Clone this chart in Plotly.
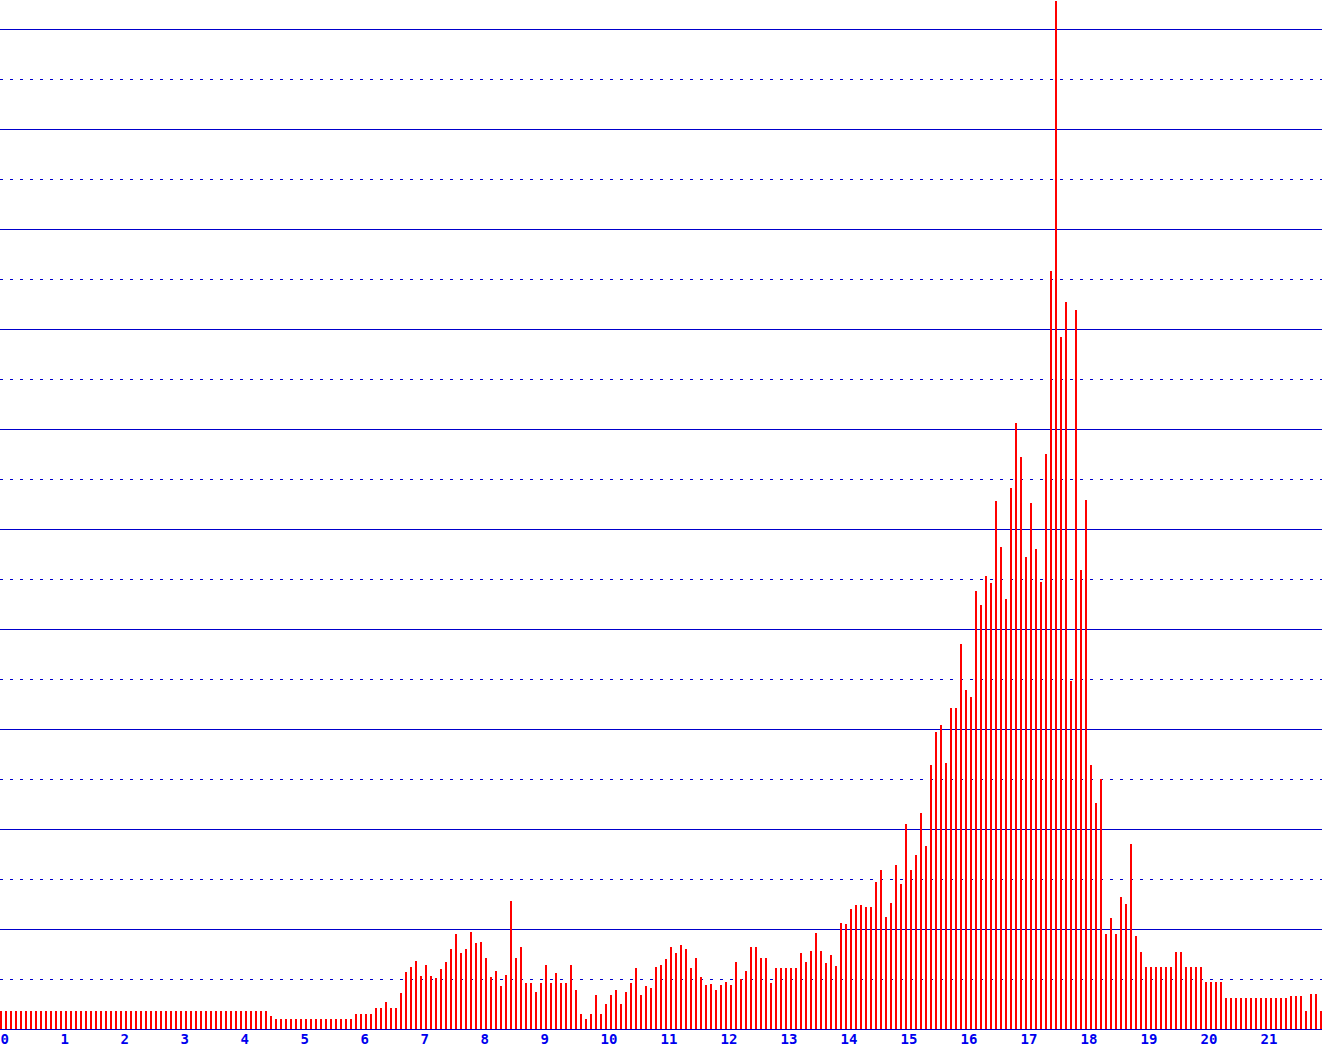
import plotly.graph_objects as go

# Time of day in minutes (one bar every 5 minutes)
minutes = list(range(0, 1325, 5))

# Bar heights, one row per hour
values = [
    18, 18, 18, 18, 18, 18, 18, 18, 18, 18, 18, 18,
    18, 18, 18, 18, 18, 18, 18, 18, 18, 18, 18, 18,
    18, 18, 18, 18, 18, 18, 18, 18, 18, 18, 18, 18,
    18, 18, 18, 18, 18, 18, 18, 18, 18, 18, 18, 18,
    18, 18, 18, 18, 18, 18, 13, 10, 10, 10, 10, 10,
    10, 10, 10, 10, 10, 10, 10, 10, 10, 10, 10, 15,
    15, 15, 15, 21, 21, 27, 21, 21, 36, 57, 62, 68,
    53, 64, 53, 51, 60, 67, 80, 95, 76, 80, 97, 86,
    87, 71, 52, 58, 43, 54, 128, 71, 82, 46, 46, 37,
    46, 64, 46, 56, 46, 46, 64, 39, 15, 10, 15, 34,
    15, 25, 34, 39, 25, 37, 46, 61, 34, 43, 41, 62,
    64, 70, 82, 76, 84, 80, 61, 71, 52, 44, 45, 39,
    44, 47, 44, 67, 50, 58, 82, 82, 71, 71, 46, 61,
    61, 61, 61, 61, 76, 67, 78, 96, 78, 66, 74, 63,
    106, 105, 120, 124, 124, 122, 122, 147, 159, 112, 126, 164,
    145, 205, 159, 174, 216, 183, 264, 297, 304, 266, 321, 321,
    385, 339, 332, 438, 424, 453, 446, 528, 482, 430, 541, 606,
    572, 472, 526, 480, 447, 575, 758, 1028, 692, 727, 348, 719,
    459, 529, 264, 226, 250, 95, 111, 95, 132, 125, 185, 93,
    77, 62, 62, 62, 62, 62, 62, 77, 77, 62, 62, 62,
    62, 47, 47, 47, 47, 31, 31, 31, 31, 31, 31, 31,
    31, 31, 31, 31, 31, 31, 33, 33, 33, 18, 35, 35,
    18,
]

hour_ticks = [0, 60, 120, 180, 240, 300, 360, 420, 480, 540, 600, 660,
              720, 780, 840, 900, 960, 1020, 1080, 1140, 1200, 1260]
hour_labels = ["0", "1", "2", "3", "4", "5", "6", "7", "8", "9", "10", "11",
               "12", "13", "14", "15", "16", "17", "18", "19", "20", "21"]

LINE = "#0000cc"
TEXT = "#0000ee"

fig = go.Figure(
    go.Bar(
        x=minutes,
        y=values,
        width=2,
        offset=0,
        marker=dict(color="#ff0000", line=dict(width=0)),
    )
)

fig.update_layout(
    width=1322,
    height=1049,
    margin=dict(l=0, r=0, t=0, b=20),
    paper_bgcolor="white",
    plot_bgcolor="white",
    showlegend=False,
    bargap=0,
    xaxis=dict(
        range=[0, 1322],
        tickmode="array",
        tickvals=hour_ticks,
        ticktext=hour_labels,
        ticks="",
        ticklabelposition="outside right",
        ticklabelstandoff=-3,
        tickfont=dict(family="DejaVu Sans Mono", size=14, color=TEXT, weight="bold"),
        showgrid=False,
        zeroline=False,
        showline=True,
        linecolor=LINE,
        linewidth=1,
        fixedrange=True,
    ),
    yaxis=dict(
        range=[0, 1029],
        tick0=0,
        dtick=100,
        showticklabels=False,
        ticks="",
        showgrid=True,
        gridcolor=LINE,
        gridwidth=1,
        zeroline=False,
        showline=False,
        minor=dict(
            tick0=50,
            dtick=100,
            showgrid=True,
            gridcolor=LINE,
            gridwidth=1,
            griddash="3px,7px",
        ),
        fixedrange=True,
    ),
)

fig.write_html(
    "out.html",
    config={"displayModeBar": False},
    post_script="document.body.style.margin='0';document.body.style.overflow='hidden';",
)
